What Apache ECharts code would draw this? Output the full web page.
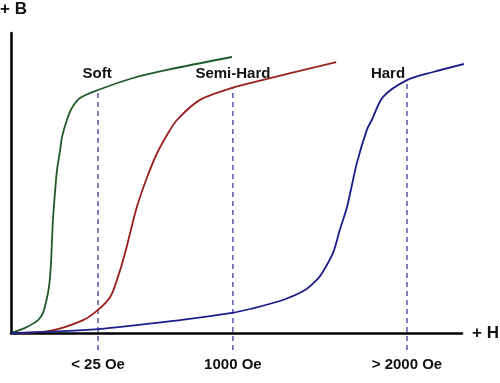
<!DOCTYPE html>
<html><head><meta charset="utf-8">
<script src="https://cdn.jsdelivr.net/npm/echarts@6/dist/echarts.min.js"></script>
<style>html,body{margin:0;padding:0;background:#fff}#c{width:500px;height:383px}</style>
</head><body><div id="c"></div>
<script>
// Magnetisation curves (arbitrary units: H 0..100, B 0..100)
const softH = [0, 3.1, 6.0, 7.1, 8.2, 8.6, 8.9, 9.3, 9.8, 10.2, 10.9, 11.3, 12.4, 13.5, 15.3, 19.3, 27.1, 34.6, 49.0];
const softB = [0, 1.7, 4.3, 6.7, 13.3, 17.7, 24.3, 37.7, 47.7, 54.3, 61, 65.3, 71, 75, 78.3, 81, 85, 87.7, 92];
const semiH = [0, 8.6, 16.0, 19.3, 22.0, 23.5, 25.3, 27.9, 30.2, 32.4, 34.6, 36.8, 41.9, 49.0, 53.0, 72.1];
const semiB = [0, 0.7, 4.3, 7.7, 12, 17.7, 26.7, 42, 52, 60, 66, 71, 77.7, 81.7, 83.3, 90.3];
const hardH = [0, 19.3, 37.5, 49.0, 53.0, 60.3, 65.2, 67.8, 69.0, 71.4, 72.9, 74.5, 76.7, 78.9, 80.0, 82.5, 87.8, 93.6, 101.3];
const hardB = [0, 1.3, 4.3, 6.7, 8, 11, 14.3, 17.7, 20, 26.7, 34.3, 42, 56.7, 67.7, 71, 78.7, 84.3, 87, 90];

const categories = ['Soft', 'Semi-Hard', 'Hard'];
const markerH = [19.3, 49.2, 87.8];
const markerTopB = [81, 81.7, 84.3];
const markerBottomB = -5.7;
const tickLabels = ['< 25 Oe', '1000 Oe', '> 2000 Oe'];
const nameLabelH = [19.1, 49.2, 83.6];
const nameLabelB = [86.3, 86.3, 86.3];

const colors = ['#1f5a2a', '#9b1f1f', '#1c1c8a'];
const curves = [[softH, softB], [semiH, semiB], [hardH, hardB]];
const FONT = 'Liberation Sans, Arial, sans-serif';

const series = [];
curves.forEach((c, i) => {
  series.push({
    type: 'line', name: categories[i], clip: false, symbol: 'none', smooth: 0.3,
    data: c[0].map((h, k) => [h, c[1][k]]),
    lineStyle: { color: colors[i], width: 1.8 }, z: 3
  });
});
markerH.forEach((h, i) => {
  series.push({
    type: 'line', clip: false, symbol: 'none', silent: true,
    data: [[h, markerBottomB], [h, markerTopB[i]]],
    lineStyle: { color: '#5656a6', width: 1.5, type: [5, 4] }, z: 2
  });
});
series.push({
  type: 'scatter', symbolSize: 0, clip: false, silent: true,
  itemStyle: { opacity: 1 },
  data: nameLabelH.map((h, i) => ({ value: [h, nameLabelB[i]], name: categories[i] })),
  label: { show: true, position: 'inside', formatter: p => p.name, opacity: 1,
    color: '#111', fontFamily: FONT, fontWeight: 'bold', fontSize: 15 }
});

const chart = echarts.init(document.getElementById('c'), null, { renderer: 'canvas' });
chart.setOption({
  animation: false,
  grid: { left: 11, right: 38, top: 33, bottom: 50, containLabel: false, outerBoundsMode: 'none' },
  xAxis: {
    type: 'value', min: 0, max: 100,
    name: '+ H', nameLocation: 'end', nameGap: 10,
    nameTextStyle: { color: '#111', fontWeight: 'bold', fontSize: 17, fontFamily: FONT, verticalAlign: 'middle' },
    axisLine: { lineStyle: { color: '#000', width: 2.5 } },
    axisTick: { show: false }, splitLine: { show: false },
    axisLabel: { show: true, customValues: markerH, margin: 24,
      formatter: v => { const i = markerH.indexOf(v); return i >= 0 ? tickLabels[i] : ''; },
      color: '#111', fontWeight: 'bold', fontSize: 15, fontFamily: FONT }
  },
  yAxis: {
    type: 'value', min: 0, max: 100,
    name: '+ B', nameLocation: 'end', nameGap: 15,
    nameTextStyle: { color: '#111', fontWeight: 'bold', fontSize: 17, fontFamily: FONT, align: 'left', padding: [0, 0, 0, -11] },
    axisLine: { show: true, lineStyle: { color: '#000', width: 2.5 } },
    axisTick: { show: false }, splitLine: { show: false }, axisLabel: { show: false }
  },
  series: series
});
</script></body></html>
